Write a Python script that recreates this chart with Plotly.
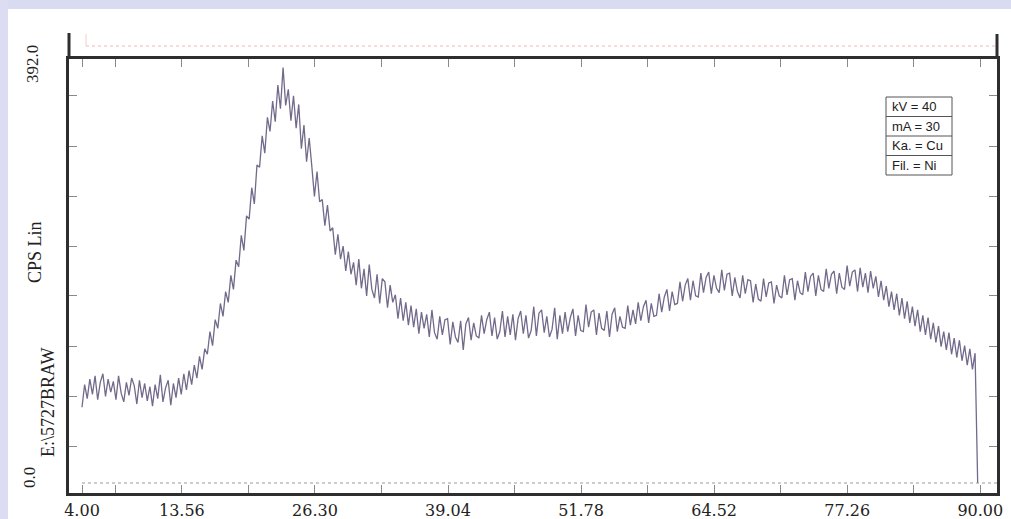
import plotly.graph_objects as go

# ---- data ----
scan_start = 4.00   # 2-theta of first step
scan_step = 0.25    # step width in degrees

counts_04_14 = [70, 91, 78, 96, 82, 99, 77, 93, 101, 80, 96, 84, 94, 77, 99, 83,
                75, 93, 81, 97, 90, 73, 95, 79, 92, 76, 89, 71, 91, 78, 100, 75,
                88, 95, 72, 92, 79, 97, 82, 101]
counts_14_24 = [86, 104, 91, 109, 97, 117, 105, 124, 119, 140, 127, 151, 143, 166, 154, 177,
                167, 192, 179, 206, 200, 229, 215, 247, 244, 273, 258, 294, 292, 321, 305, 338,
                325, 353, 334, 368, 346, 384, 349, 364]
counts_24_40 = [335, 358, 328, 350, 309, 331, 297, 319, 293, 265, 288, 260, 262, 238, 257, 233,
                236, 211, 230, 207, 219, 196, 214, 193, 204, 183, 207, 180, 198, 173, 202, 179,
                171, 193, 166, 189, 186, 162, 183, 167, 174, 152, 171, 150, 167, 146, 164, 144,
                161, 138, 158, 143, 156, 135, 160, 139, 133, 154, 137, 151, 152, 128, 149, 135]
counts_40_56 = [130, 150, 123, 147, 153, 132, 148, 136, 134, 155, 138, 151, 158, 136, 153, 133,
                140, 159, 135, 154, 137, 156, 132, 152, 159, 138, 155, 134, 141, 163, 136, 157,
                160, 139, 154, 135, 142, 162, 133, 155, 138, 158, 140, 153, 161, 136, 155, 141,
                140, 165, 144, 158, 160, 137, 157, 143, 141, 159, 135, 156, 162, 140, 154, 144]
counts_56_72 = [143, 164, 146, 160, 147, 167, 150, 163, 169, 148, 166, 154, 155, 175, 158, 172,
                179, 159, 177, 165, 166, 186, 168, 183, 189, 169, 187, 173, 172, 194, 176, 190,
                195, 175, 192, 180, 176, 197, 178, 193, 194, 173, 190, 177, 171, 192, 175, 188,
                187, 167, 184, 170, 168, 189, 172, 185, 186, 166, 183, 173, 171, 192, 174, 188]
counts_72_90 = [189, 169, 187, 176, 174, 195, 177, 191, 194, 173, 192, 179, 177, 198, 180, 193,
                196, 175, 194, 181, 179, 201, 182, 195, 197, 177, 199, 181, 194, 176, 196, 180,
                191, 172, 187, 169, 182, 163, 177, 160, 175, 155, 171, 152, 168, 148, 163, 145,
                160, 140, 155, 137, 153, 133, 148, 130, 145, 126, 140, 123, 139, 119, 134, 116,
                132, 113, 127, 109, 124, 105, 120, 0]

counts = counts_04_14 + counts_14_24 + counts_24_40 + counts_40_56 + counts_56_72 + counts_72_90
two_theta = [round(scan_start + scan_step * i, 2) for i in range(len(counts))]

x_tick_values = [4.00, 7.19, 13.56, 19.93, 26.30, 32.67, 39.04, 45.41, 51.78,
                 58.15, 64.52, 70.89, 77.26, 83.63, 90.00]
x_tick_labels = ["4.00", "", "13.56", "", "26.30", "", "39.04", "", "51.78",
                 "", "64.52", "", "77.26", "", "90.00"]
y_tick_values = [34.2, 80.4, 126.6, 172.9, 219.1, 265.3, 311.5, 357.8]
y_min_label = "0.0"
y_max_label = "392.0"
y_title = "CPS Lin"
file_label = "E:\\5727BRAW"
box_rows = ["kV = 40", "mA = 30", "Ka. = Cu", "Fil. = Ni"]

# ---- figure geometry ----
W, H = 1011, 519
L, R, T, B = 69, 997, 59, 493      # plot area in px
pw, ph = R - L, B - T


def px(xp):
    return (xp - L) / pw


def py(yp):
    return (B - yp) / ph


fig = go.Figure()
fig.add_trace(go.Scatter(
    x=two_theta, y=counts, mode="lines",
    line=dict(color="#726a8a", width=1.3),
    hoverinfo="x+y", showlegend=False,
))

shapes = []
# tinted scan border (top strip and left strip)
shapes.append(dict(type="rect", xref="paper", yref="paper",
                   x0=px(0), x1=px(W), y0=py(9), y1=py(0),
                   fillcolor="#d9dbf1", line=dict(width=0), layer="below"))
shapes.append(dict(type="rect", xref="paper", yref="paper",
                   x0=px(0), x1=px(8), y0=py(H), y1=py(0),
                   fillcolor="#dcdcf2", line=dict(width=0), layer="below"))
# axis extensions above the top frame line
shapes.append(dict(type="line", xref="paper", yref="paper", x0=0, x1=0,
                   y0=1, y1=py(33), line=dict(color="#2e2e2e", width=3)))
shapes.append(dict(type="line", xref="paper", yref="paper", x0=1, x1=1,
                   y0=1, y1=py(34), line=dict(color="#2e2e2e", width=3)))
# faint red dotted reference line at the very top
shapes.append(dict(type="line", xref="paper", yref="paper", x0=px(86), x1=1,
                   y0=py(46), y1=py(46), line=dict(color="#efb9b9", width=1, dash="dot")))
shapes.append(dict(type="line", xref="paper", yref="paper", x0=px(86), x1=px(86),
                   y0=py(46), y1=py(34), line=dict(color="#f2cccc", width=1)))
# zero line
shapes.append(dict(type="line", xref="x", yref="y", x0=scan_start, x1=91.6,
                   y0=0, y1=0, line=dict(color="#9a9a9a", width=1, dash="dot")))
# parameter box
bx0, bx1 = px(886), px(952)
row_edges = [97, 116.5, 136, 155.5, 175]
shapes.append(dict(type="rect", xref="paper", yref="paper", x0=bx0, x1=bx1,
                   y0=py(row_edges[-1]), y1=py(row_edges[0]),
                   line=dict(color="#555", width=1), fillcolor="white"))
for e in row_edges[1:-1]:
    shapes.append(dict(type="line", xref="paper", yref="paper", x0=bx0, x1=bx1,
                       y0=py(e), y1=py(e), line=dict(color="#555", width=1)))

annotations = []
for i, t in enumerate(box_rows):
    yc = (row_edges[i] + row_edges[i + 1]) / 2
    annotations.append(dict(xref="paper", yref="paper", x=px(890), y=py(yc),
                            text=t, showarrow=False, xanchor="left", yanchor="middle",
                            font=dict(family="Liberation Sans", size=13, color="#222")))

serif = "Liberation Serif"
for (xc, yc, txt, size) in [(32, 64, y_max_label, 17), (29, 478, y_min_label, 17),
                            (35, 252, y_title, 18), (48, 402, file_label, 18)]:
    annotations.append(dict(xref="paper", yref="paper", x=px(xc), y=py(yc), text=txt,
                            textangle=-90, showarrow=False, xanchor="center", yanchor="middle",
                            font=dict(family=serif, size=size, color="#222")))

fig.update_layout(
    width=W, height=H, autosize=False,
    margin=dict(l=L, r=W - R, t=T, b=H - B, pad=0, autoexpand=False),
    paper_bgcolor="white",
    plot_bgcolor="rgba(0,0,0,0)",
    shapes=shapes,
    annotations=annotations,
    showlegend=False,
)
fig.update_xaxes(
    range=[2.755, 91.6], showgrid=False, zeroline=False, automargin=False,
    showline=True, linecolor="#2e2e2e", linewidth=2.5, mirror="ticks",
    ticks="inside", ticklen=8, tickwidth=1, tickcolor="#8a8a8a",
    tickmode="array", tickvals=x_tick_values, ticktext=x_tick_labels,
    tickfont=dict(family="DejaVu Serif", size=16, color="#222"),
    ticklabelstandoff=1,
)
fig.update_yaxes(
    range=[-9.25, 392.0], showgrid=False, zeroline=False, automargin=False,
    showline=True, linecolor="#2e2e2e", linewidth=2.5, mirror="ticks",
    ticks="inside", ticklen=8, tickwidth=1, tickcolor="#8a8a8a",
    tickmode="array", tickvals=y_tick_values, showticklabels=False,
)

fig.write_html("out.html", config={"displayModeBar": False},
               post_script="document.body.style.margin='0';document.body.style.padding='0';")
